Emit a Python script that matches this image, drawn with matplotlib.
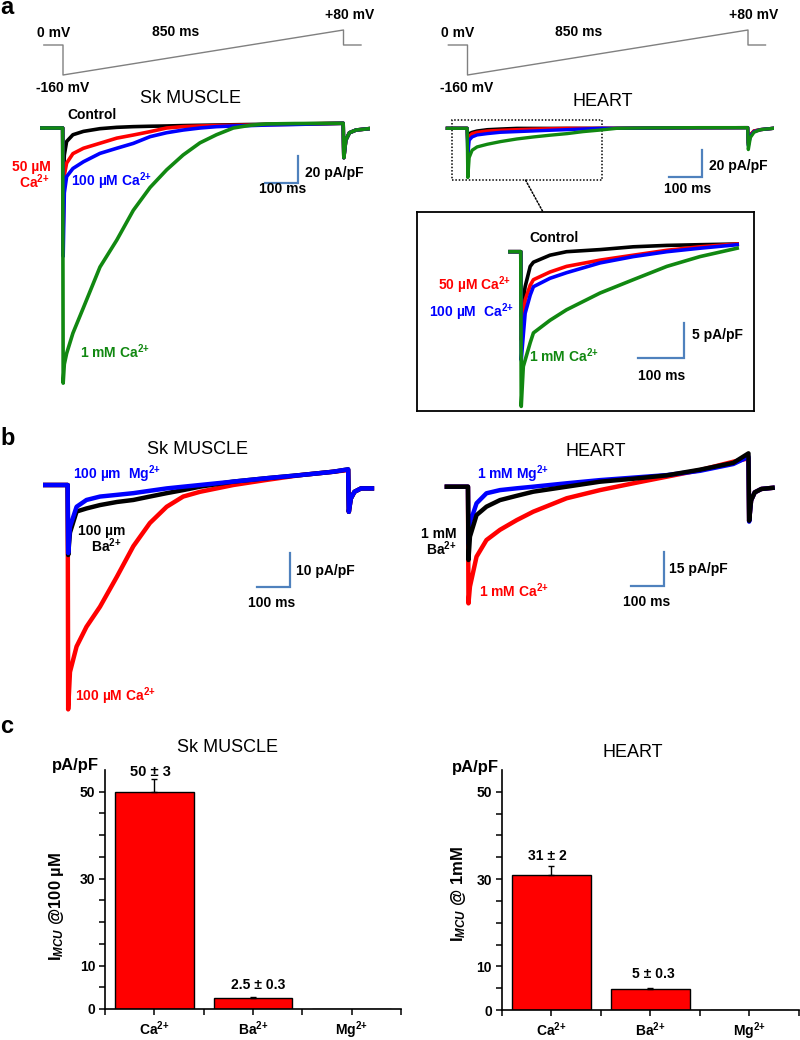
import matplotlib
matplotlib.use('Agg')
import matplotlib.pyplot as plt
from matplotlib.patches import Rectangle, ConnectionPatch

plt.rcParams['font.family'] = ['Liberation Sans', 'DejaVu Sans']
plt.rcParams['mathtext.fontset'] = 'custom'
plt.rcParams['mathtext.rm'] = 'Liberation Sans:bold'
plt.rcParams['mathtext.it'] = 'Liberation Sans:italic:bold'
plt.rcParams['mathtext.bf'] = 'Liberation Sans:bold'

# superscript without operator spacing
SUP = '$^{2{+}}$'

# ---- voltage protocol (ms, mV)
proto_t = [-58, 0, 0, 850, 850, 903]
proto_v = [0, 0, -160, 80, 0, 0]

# ---- panel a, Sk muscle (ms, pA/pF)
t_sk_a = [-64, -1, 0.5, 4, 11, 30, 62, 112, 163, 213, 264, 314, 364, 415, 465,
          516, 567, 617, 700, 849, 851, 857, 868, 888, 927]
ctrl_sk_a = [0, 0, -45, -20, -10, -5, -2.5, -0.5, 0.5, 1, 1.3, 1.5, 1.8, 2, 2.2,
             2.4, 2.6, 2.8, 3, 3.5, -22, -9, -3.5, -1.5, -0.5]
ca50_sk_a = [0, 0, -75, -35, -26, -19, -15, -11.3, -7.5, -5.2, -2.7, 0, 1, 1.5, 1.8,
             2, 2.2, 2.5, 2.8, 3.5, -22, -9, -3.5, -1.5, -0.5]
ca100_sk_a = [0, 0, -95, -48, -36, -30, -25, -18.8, -15, -11.4, -6.4, -3.5, -1.5, 0, 1,
              1.5, 1.8, 2.2, 2.6, 3.5, -22, -9, -3.5, -1.5, -0.5]
ca1mm_sk_a = [0, 0, -189, -175, -167, -152, -133, -103, -83, -61, -44, -31, -20, -11, -5,
              0, 2, 3, 3.3, 3.5, -22, -9, -3.5, -1.5, -0.5]

# ---- panel a, heart
t_ht_a = [-61, -1, 1, 5, 14, 29, 60, 100, 150, 200, 250, 302, 350, 403, 453,
          550, 700, 849, 851, 857, 868, 888, 927]
ctrl_ht_a = [0, 0, -11, -4, -3, -2, -1, -0.5, 0, 0, 0, 0, 0, 0, 0,
             0.2, 0.4, 0.5, -11, -5, -2, -1, 0]
ca50_ht_a = [0, 0, -15, -6, -4, -3, -2, -1.5, -1, -0.6, -0.3, 0, 0, 0, 0,
             0.2, 0.4, 0.5, -12, -5, -2, -1, 0]
ca100_ht_a = [0, 0, -21, -9, -6.5, -5, -4, -3, -2.5, -2, -1.5, -1, -0.5, 0, 0,
              0.2, 0.4, 0.5, -13, -6, -2.5, -1, 0]
ca1mm_ht_a = [0, 0, -37, -22, -16.5, -14, -12, -10, -8, -6.5, -5.2, -4, -2.5, -1.3, 0,
              0.3, 0.5, 0.5, -16, -7, -3, -1, 0]

# ---- heart inset
t_inset = [-24, -0.5, 0.5, 5, 9, 20, 27, 63, 99, 172, 244, 317, 389, 470]
ctrl_inset = [0, 0, -9.3, -6.9, -5, -2.1, -1.5, -0.5, 0, 0.3, 0.7, 0.9, 1.0, 1.1]
ca50_inset = [0, 0, -12.6, -9.8, -6.9, -4.8, -4.0, -2.9, -2.1, -1.2, -0.5, 0.2, 0.7, 1.1]
ca100_inset = [0, 0, -15.5, -11.9, -8.8, -6.2, -5.0, -3.8, -3.0, -1.6, -0.7, 0, 0.5, 1.0]
ca1mm_inset = [0, 0, -22.1, -16.4, -15.5, -13, -11.6, -9.8, -8.3, -5.9, -4.0, -2.1, -0.7, 0.5]

# ---- panel b, Sk muscle
t_sk_b = [-70, -1, 0.5, 6, 26, 56, 97, 148, 198, 248, 299, 349, 400, 501, 602,
          703, 804, 849, 851, 857, 868, 888, 921]
ca_sk_b = [0, 0, -66, -55, -47.5, -41.7, -35.8, -27, -18, -11.2, -6.4, -3.4, -2, 0, 1.5,
           2.9, 3.9, 4.4, -7.9, -4, -2, -1, -1]
ba_sk_b = [0, 0, -20.6, -14, -7.8, -6.9, -5.9, -5, -4.4, -3.4, -2.4, -1.5, -0.5, 1, 2,
           2.9, 3.9, 4.6, -7.9, -4, -2, -1, -1]
mg_sk_b = [0, 0, -20, -12.3, -6.4, -4.4, -3.4, -2.9, -2.4, -1.7, -1, -0.5, 0, 1, 2,
           2.9, 3.9, 4.6, -7.9, -4, -2, -1, -1]

# ---- panel b, heart
t_ht_b = [-65, -1, 0.5, 5, 25, 55, 96, 147, 197, 298, 399, 500, 601, 702, 803,
          849, 851, 857, 868, 888, 922]
ca_ht_b = [0, 0, -51.4, -44, -30.8, -23.5, -19, -14.7, -11, -5.1, -1.5, 1.5, 4.4, 7.3, 11,
           12.5, -15, -6, -2.5, -1, -0.5]
ba_ht_b = [0, 0, -32.3, -22, -12.5, -8.8, -5.9, -4, -2.2, 0, 2.2, 3.5, 5, 7.5, 10.5,
           14.7, -15, -6, -2.5, -1, -0.5]
mg_ht_b = [0, 0, -25, -16, -7.3, -2.9, -1.5, -0.7, 0, 1.5, 2.9, 4, 5.1, 7, 10,
           13.2, -15.4, -6, -2.5, -1, -0.5]

# ---- panel c, bars
ions = ['Ca' + SUP, 'Ba' + SUP, 'Mg' + SUP]
sk_mean = [50, 2.5, 0]
sk_sem = [3, 0.3, 0]
ht_mean = [31, 4.7, 0]
ht_sem = [2, 0.3, 0]

RED, BLUE, GREEN, GREY, BAR = '#ff0000', '#0000ff', '#118811', '#808080', '#4f81bd'
W, H = 800, 1040
fig = plt.figure(figsize=(8, 10.4), dpi=100)


def trace_axes(x0, sx, y0, sy, xlim, ylim):
    # axes whose data->pixel mapping is x = x0 + sx*t, y = y0 - sy*I
    left, right = x0 + sx * xlim[0], x0 + sx * xlim[1]
    top, bottom = y0 - sy * ylim[1], y0 - sy * ylim[0]
    ax = fig.add_axes([left / W, 1 - bottom / H, (right - left) / W, (bottom - top) / H])
    ax.set_xlim(xlim)
    ax.set_ylim(ylim)
    ax.axis('off')
    return ax


def label(x, y, s, color='black', size=10, weight='bold', ha='center', **kw):
    fig.text(x / W, 1 - y / H, s, color=color, fontsize=size, fontweight=weight,
             ha=ha, va='baseline', **kw)


def scale_bar(ax, corner, dt, di):
    cx, cy = corner
    ax.plot([cx - dt, cx, cx], [cy, cy, cy + di], color=BAR, lw=1.6,
            solid_joinstyle='miter')


# ================= panel a =================
for x0 in (63, 467.5):
    ax = trace_axes(x0, 0.33, 45, 0.1875, (-75, 930), (-180, 100))
    ax.plot(proto_t, proto_v, color=GREY, lw=1)

ax_sa = trace_axes(63, 0.33, 128, 1.35, (-75, 930), (-200, 25))
for y, c in [(ctrl_sk_a, 'black'), (ca50_sk_a, RED), (ca100_sk_a, BLUE), (ca1mm_sk_a, GREEN)]:
    ax_sa.plot(t_sk_a, y, color=c, lw=2.6)
scale_bar(ax_sa, (712, -40.7), 100, 20)

ax_ha = trace_axes(467.5, 0.33, 128.3, 1.33, (-75, 930), (-45, 15))
for y, c in [(ctrl_ht_a, 'black'), (ca50_ht_a, RED), (ca100_ht_a, BLUE), (ca1mm_ht_a, GREEN)]:
    ax_ha.plot(t_ht_a, y, color=c, lw=2.4)
scale_bar(ax_ha, (712, -36.4), 100, 20)
ax_ha.add_patch(Rectangle((-46, -39), 454, 45, fill=False, ls=(0, (1, 1.2)),
                          lw=1.1, ec='black'))

# inset
ax_in = trace_axes(521, 0.46, 251.7, 7, (-226, 506.5), (-22.76, 5.67))
ax_in.axis('on')
ax_in.set_xticks([])
ax_in.set_yticks([])
for s in ax_in.spines.values():
    s.set_linewidth(1.3)
for y, c in [(ctrl_inset, 'black'), (ca50_inset, RED), (ca100_inset, BLUE), (ca1mm_inset, GREEN)]:
    ax_in.plot(t_inset, y, color=c, lw=2.6)
scale_bar(ax_in, (354, -15.2), 100, 5)
fig.add_artist(ConnectionPatch(xyA=(176, -39), coordsA=ax_ha.transData,
                               xyB=(126 / 337, 1), coordsB=ax_in.transAxes,
                               ls=(0, (1, 1.2)), lw=1.1, color='black'))

label(0, 14, 'a', size=17, ha='left')
for xc in (0, 403.5):
    label(54 + xc, 37.3, '0 mV')
    label(175.3 + xc, 36, '850 ms')
    label(350 + xc, 19.3, '+80 mV')
    label(62.7 + xc, 91.7, '-160 mV')
label(190.3, 102.7, 'Sk MUSCLE', size=13, weight='normal')
label(602.5, 106, 'HEART', size=13, weight='normal')
label(92.5, 119.3, 'Control')
label(31, 171, '50 µM', color=RED)
label(34, 188, 'Ca' + SUP, color=RED)
label(111.3, 186, '100 µM Ca' + SUP, color=BLUE)
label(115, 358.3, '1 mM Ca' + SUP, color=GREEN)
label(334, 176.7, '20 pA/pF')
label(283, 192.7, '100 ms')
label(738, 170, '20 pA/pF')
label(687.8, 193.3, '100 ms')
label(553.8, 241.7, 'Control')
label(475, 290, '50 µM Ca' + SUP, color=RED)
label(471.7, 317.3, '100 µM  Ca' + SUP, color=BLUE)
label(564.2, 361.7, '1 mM Ca' + SUP, color=GREEN)
label(717.5, 339, '5 pA/pF')
label(661.7, 380, '100 ms')

# ================= panel b =================
ax_sb = trace_axes(68, 0.33, 485, 3.4, (-75, 930), (-70, 10))
for y, c in [(ca_sk_b, RED), (ba_sk_b, 'black'), (mg_sk_b, BLUE)]:
    ax_sb.plot(t_sk_b, y, color=c, lw=3.2)
scale_bar(ax_sb, (673, -29.9), 100, 10)

ax_hb = trace_axes(468.3, 0.33, 486.7, 2.27, (-75, 930), (-55, 18))
for y, c in [(ca_ht_b, RED), (mg_ht_b, BLUE), (ba_ht_b, 'black')]:
    ax_hb.plot(t_ht_b, y, color=c, lw=3.2)
scale_bar(ax_hb, (593, -43.6), 100, 15)

label(0, 445, 'b', size=17, ha='left')
label(197.2, 454, 'Sk MUSCLE', size=13, weight='normal')
label(595.8, 456, 'HEART', size=13, weight='normal')
label(116.7, 479.3, '100 µm  Mg' + SUP, color=BLUE)
label(101.7, 534.5, '100 µm')
label(105.8, 552, 'Ba' + SUP)
label(325, 575, '10 pA/pF')
label(271.7, 606.7, '100 ms')
label(115.8, 700.7, '100 µM Ca' + SUP, color=RED)
label(513.3, 479.3, '1 mM Mg' + SUP, color=BLUE)
label(439.2, 538.5, '1 mM')
label(440.8, 555.5, 'Ba' + SUP)
label(698.3, 572.7, '15 pA/pF')
label(646.3, 605.7, '100 ms')
label(514.2, 597.3, '1 mM Ca' + SUP, color=RED)

# ================= panel c =================
def bar_panel(box, means, sems):
    x0, x1, y_top, y_bot = box
    ax = fig.add_axes([x0 / W, 1 - y_bot / H, (x1 - x0) / W, (y_bot - y_top) / H])
    pos = range(len(ions))
    ax.bar(pos, means, width=0.8, color='red', edgecolor='black', lw=1)
    ax.errorbar(list(pos)[:2], means[:2], yerr=[[0, 0], sems[:2]], fmt='none',
                ecolor='black', elinewidth=1, capsize=2.5, capthick=1)
    ax.set_xlim(-0.5, 2.5)
    ax.set_ylim(0, 55)
    for s in ('top', 'right'):
        ax.spines[s].set_visible(False)
    for s in ('left', 'bottom'):
        ax.spines[s].set_linewidth(1.2)
    ax.set_yticks([0, 10, 30, 50])
    ax.set_yticks(range(5, 55, 5), minor=True)
    ax.set_xticks(list(pos))
    ax.set_xticks([-0.5, 0.5, 1.5, 2.5], minor=True)
    ax.set_xticklabels(ions)
    ax.tick_params(axis='y', which='both', direction='out', length=4, width=1.1,
                   pad=3, labelsize=10)
    ax.tick_params(axis='x', which='both', direction='out', length=4, width=1.1,
                   pad=3.5, labelsize=10)
    for lab in ax.get_yticklabels() + ax.get_xticklabels():
        lab.set_fontweight('bold')
    return ax


bar_panel((105, 401, 770, 1009), sk_mean, sk_sem)
bar_panel((501.7, 798.7, 770, 1010), ht_mean, ht_sem)

label(0, 733, 'c', size=17, ha='left')
label(227.5, 751.7, 'Sk MUSCLE', size=13, weight='normal')
label(632.5, 757.3, 'HEART', size=13, weight='normal')
label(75, 770, 'pA/pF', size=12)
label(475, 771.7, 'pA/pF', size=12)
label(150.8, 776, '50 ± 3', size=10.5)
label(258, 989.3, '2.5 ± 0.3', size=10)
label(547.2, 860, '31 ± 2', size=10)
label(653.7, 978.3, '5 ± 0.3', size=10)
fig.text(56 / W, 1 - 906.7 / H, r'I$_{\mathit{MCU}}$ @100 µM', fontsize=12,
         fontweight='bold', rotation=90, ha='center', va='center')
fig.text(459 / W, 1 - 894 / H, r'I$_{\mathit{MCU}}$ @ 1mM', fontsize=12,
         fontweight='bold', rotation=90, ha='center', va='center')

fig.savefig('out.png', dpi=100)
